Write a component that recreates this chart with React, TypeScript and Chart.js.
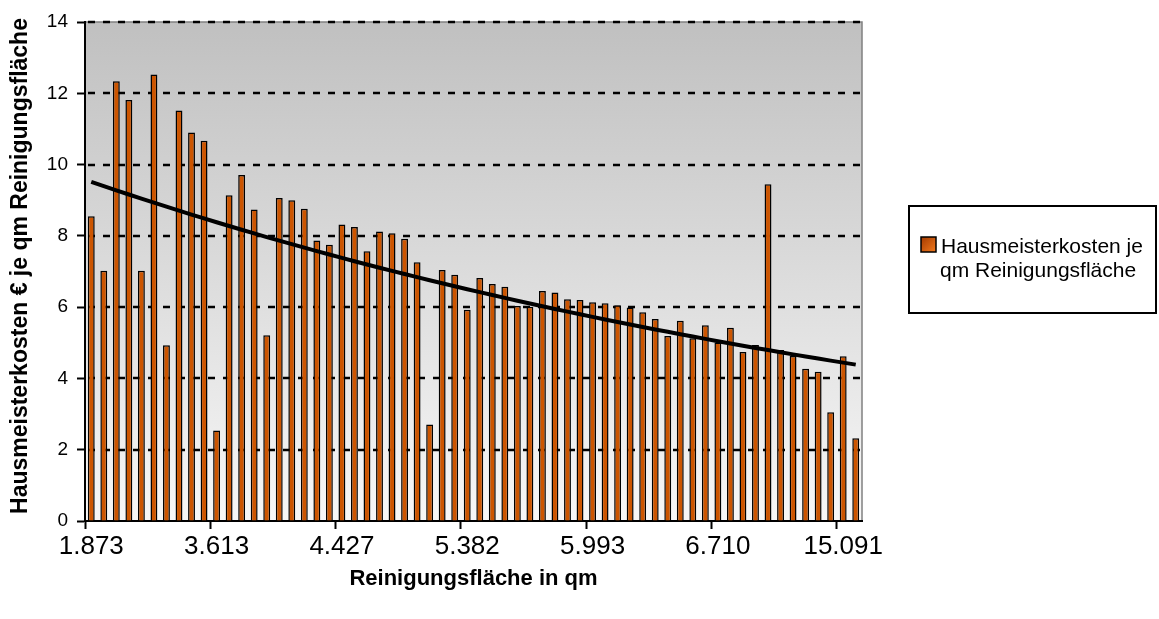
import React, { useEffect, useRef } from 'react';
import { Chart, registerables } from 'chart.js';

Chart.register(...registerables);

// ---- data ----
const shownAreaLabels = ['1.873', '3.613', '4.427', '5.382', '5.993', '6.710', '15.091'];
const labelEvery = 10;
const costPerSqm = [
  8.55, 7.02, 12.34, 11.81, 7.02, 12.53, 4.93, 11.52, 10.9, 10.67,
  2.54, 9.14, 9.71, 8.74, 5.21, 9.06, 9.0, 8.76, 7.87, 7.75,
  8.32, 8.25, 7.57, 8.12, 8.07, 7.92, 7.26, 2.71, 7.04, 6.91,
  5.93, 6.82, 6.65, 6.57, 6.03, 6.01, 6.45, 6.41, 6.22, 6.2,
  6.14, 6.11, 6.05, 5.99, 5.86, 5.67, 5.19, 5.62, 5.13, 5.49,
  5.01, 5.42, 4.74, 4.94, 9.45, 4.8, 4.63, 4.27, 4.19, 3.05,
  4.62, 2.32,
];
const yTickValues = [0, 2, 4, 6, 8, 10, 12, 14];
const seriesName = ['Hausmeisterkosten je', 'qm Reinigungsfläche'];
const xTitle = 'Reinigungsfläche in qm';
const yTitle = 'Hausmeisterkosten € je qm Reinigungsfläche';

const categories = costPerSqm.map((_, i) =>
  i % labelEvery === 0 ? shownAreaLabels[i / labelEvery] ?? '' : ''
);

// Excel-style exponential trendline (least squares on ln y)
function expTrend(values: number[]): number[] {
  const n = values.length;
  let sx = 0, sy = 0, sxx = 0, sxy = 0;
  values.forEach((v, i) => {
    const x = i + 1;
    const y = Math.log(v);
    sx += x; sy += y; sxx += x * x; sxy += x * y;
  });
  const b = (n * sxy - sx * sy) / (n * sxx - sx * sx);
  const a = (sy - b * sx) / n;
  return values.map((_, i) => Math.exp(a + b * (i + 1)));
}
const trend = expTrend(costPerSqm);

const FONT = "'Liberation Sans', Arial, Helvetica, sans-serif";

const decorPlugin = {
  id: 'decor',
  beforeDraw(chart: any) {
    const { ctx, chartArea: ca } = chart;
    ctx.save();
    ctx.fillStyle = '#ffffff';
    ctx.fillRect(0, 0, chart.width, chart.height);
    const g = ctx.createLinearGradient(0, ca.top, 0, ca.bottom);
    g.addColorStop(0, '#c0c0c0');
    g.addColorStop(1, '#f7f7f7');
    ctx.fillStyle = g;
    ctx.fillRect(ca.left, ca.top, ca.right - ca.left, ca.bottom - ca.top);
    ctx.strokeStyle = '#808080';
    ctx.lineWidth = 1.5;
    ctx.strokeRect(ca.left, ca.top, ca.right - ca.left, ca.bottom - ca.top);
    ctx.restore();
  },
  beforeDatasetsDraw(chart: any) {
    const { ctx, chartArea: ca, scales } = chart;
    ctx.save();
    ctx.strokeStyle = '#000';
    ctx.lineWidth = 2.5;
    ctx.setLineDash([7, 8]);
    yTickValues.forEach((v) => {
      if (v === 0) return;
      const y = Math.round(scales.y.getPixelForValue(v));
      ctx.beginPath();
      ctx.moveTo(ca.left + 3, y);
      ctx.lineTo(ca.right, y);
      ctx.stroke();
    });
    ctx.restore();
  },
  afterDraw(chart: any) {
    const { ctx, chartArea: ca } = chart;
    ctx.save();
    ctx.fillStyle = '#000';
    // x title
    ctx.font = `bold 22px ${FONT}`;
    ctx.textAlign = 'center';
    ctx.textBaseline = 'alphabetic';
    ctx.fillText(xTitle, (ca.left + ca.right) / 2, 585);
    // y title
    ctx.font = `bold 23px ${FONT}`;
    ctx.translate(27, 266);
    ctx.rotate(-Math.PI / 2);
    ctx.fillText(yTitle, 0, 0);
    ctx.restore();

    // legend
    ctx.save();
    const bx = 909, by = 206, bw = 247, bh = 107;
    ctx.fillStyle = '#fff';
    ctx.fillRect(bx, by, bw, bh);
    ctx.strokeStyle = '#000';
    ctx.lineWidth = 2;
    ctx.strokeRect(bx, by, bw, bh);
    const sx = 921, sy = 237, ss = 15;
    const sg = ctx.createLinearGradient(sx, sy, sx + ss, sy + ss);
    sg.addColorStop(0, '#a33a00');
    sg.addColorStop(1, '#f27a1e');
    ctx.fillStyle = sg;
    ctx.fillRect(sx, sy, ss, ss);
    ctx.lineWidth = 1.5;
    ctx.strokeRect(sx, sy, ss, ss);
    ctx.fillStyle = '#000';
    ctx.font = `21px ${FONT}`;
    ctx.textAlign = 'left';
    ctx.textBaseline = 'alphabetic';
    ctx.fillText(seriesName[0], 941, 253);
    ctx.fillText(seriesName[1], 940, 277);
    ctx.restore();
  },
};

export default function App() {
  const ref = useRef<HTMLCanvasElement | null>(null);

  useEffect(() => {
    document.body.style.margin = '0';
    const canvas = ref.current;
    if (!canvas) return;
    const chart = new Chart(canvas, {
      type: 'bar',
      data: {
        labels: categories,
        datasets: [
          {
            type: 'line',
            label: 'Trend',
            data: trend,
            borderColor: '#000',
            borderWidth: 4,
            pointRadius: 0,
            fill: false,
            tension: 0,
            order: 0,
          } as any,
          {
            type: 'bar',
            label: seriesName.join(' '),
            data: costPerSqm,
            backgroundColor: '#cc5500',
            borderColor: '#000',
            borderWidth: 1.5,
            barPercentage: 0.55,
            categoryPercentage: 1,
            order: 1,
          },
        ],
      },
      options: {
        responsive: false,
        animation: false,
        devicePixelRatio: 1,
        layout: { padding: { top: 22, right: 297, bottom: 0, left: 0 } },
        plugins: {
          legend: { display: false },
          tooltip: { enabled: false },
          title: { display: false },
        },
        scales: {
          x: {
            type: 'category',
            offset: true,
            grid: {
              offset: true,
              drawOnChartArea: false,
              drawTicks: true,
              tickLength: 8,
              tickWidth: 2,
              tickBorderDash: [],
              color: 'rgba(0,0,0,0)',
              tickColor: (c: any) => (c.index % labelEvery === 0 ? '#000' : 'rgba(0,0,0,0)'),
            },
            border: { display: true, color: '#000', width: 2 },
            ticks: {
              autoSkip: false,
              maxRotation: 0,
              minRotation: 0,
              padding: 2,
              color: '#000',
              font: { family: FONT, size: 26 },
              callback: (_v: any, i: number) => categories[i],
            },
            afterFit: (s: any) => {
              s.height = 98;
            },
          },
          y: {
            min: 0,
            max: 14,
            grid: {
              drawOnChartArea: false,
              drawTicks: true,
              tickLength: 8,
              tickWidth: 2,
              tickBorderDash: [],
              color: '#000',
              tickColor: '#000',
            },
            border: { display: true, color: '#000', width: 2 },
            ticks: {
              stepSize: 2,
              padding: 9,
              color: '#000',
              font: { family: FONT, size: 19 },
            },
            afterFit: (s: any) => {
              s.width = 85;
            },
          },
        },
      },
      plugins: [decorPlugin],
    });
    return () => chart.destroy();
  }, []);

  return (
    <div style={{ width: 1159, height: 619 }}>
      <canvas ref={ref} width={1159} height={619} style={{ display: 'block' }} />
    </div>
  );
}
